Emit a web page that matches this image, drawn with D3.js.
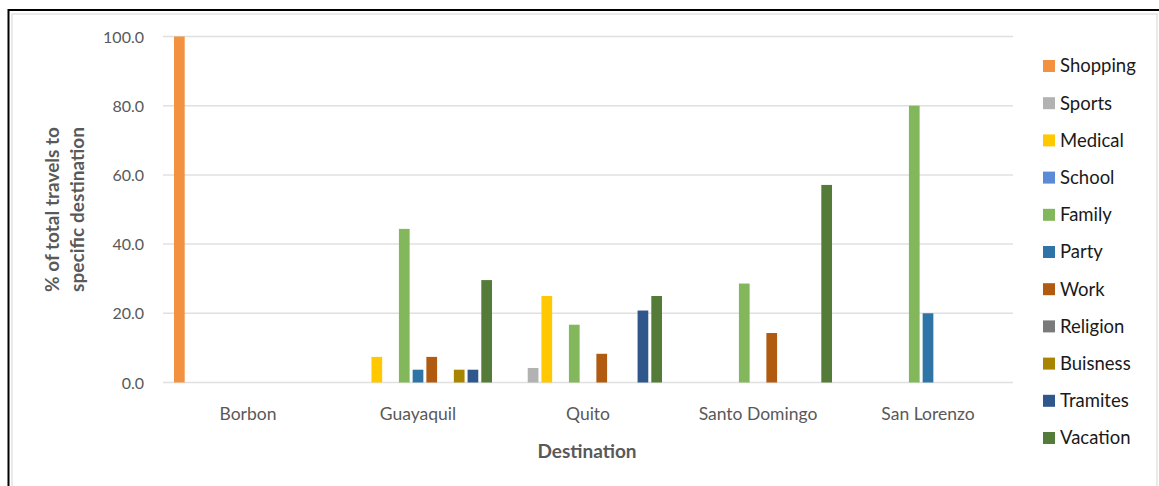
<!DOCTYPE html>
<html>
<head>
<meta charset="utf-8">
<script src="https://cdn.jsdelivr.net/npm/d3@7/dist/d3.min.js"></script>
<style>
  html, body { margin: 0; padding: 0; background: #fff; }
  svg { display: block; }
  text { font-family: Lato, "Open Sans", sans-serif; }
</style>
</head>
<body>
<svg id="chart" width="1159" height="486"></svg>
<script>
// Destinations on the x axis
const destinations = ["Borbon", "Guayaquil", "Quito", "Santo Domingo", "San Lorenzo"];

// Trip purposes (legend order)
const purposes = ["Shopping", "Sports", "Medical", "School", "Family", "Party",
                  "Work", "Religion", "Buisness", "Tramites", "Vacation"];

// Share of trips (%) per purpose, one value per destination
const shopping = [100.0, 0, 0, 0, 0];
const sports   = [0, 0, 4.2, 0, 0];
const medical  = [0, 7.4, 25.0, 0, 0];
const school   = [0, 0, 0, 0, 0];
const family   = [0, 44.4, 16.7, 28.6, 80.0];
const party    = [0, 3.7, 0, 0, 20.0];
const work     = [0, 7.4, 8.3, 14.3, 0];
const religion = [0, 0, 0, 0, 0];
const buisness = [0, 3.7, 0, 0, 0];
const tramites = [0, 3.7, 20.8, 0, 0];
const vacation = [0, 29.6, 25.0, 57.1, 0];

const yTicks = [0, 20, 40, 60, 80, 100];

const seriesValues = [shopping, sports, medical, school, family, party,
                      work, religion, buisness, tramites, vacation];

const colors = ["#F29140", "#B2B2B2", "#FFC800", "#5B8AD6", "#82B75B", "#2E74A6",
                "#B05B10", "#7A7A7A", "#A88500", "#2F578C", "#557B39"];

const svg = d3.select("#chart");

// outer frame
svg.append("rect").attr("x", 12).attr("y", 14).attr("width", 1145).attr("height", 480)
  .attr("fill", "none").attr("stroke", "#e3e3e3").attr("stroke-width", 1.5);
svg.append("line").attr("x1", 8.5).attr("x2", 8.5).attr("y1", 9).attr("y2", 486)
  .attr("stroke", "#000").attr("stroke-width", 2);
svg.append("line").attr("x1", 8).attr("x2", 1159).attr("y1", 10).attr("y2", 10)
  .attr("stroke", "#000").attr("stroke-width", 2);

const plot = { left: 163, right: 1013, top: 36.5, bottom: 382.5 };

const x = d3.scaleBand().domain(destinations).range([plot.left, plot.right]);
const inner = d3.scaleBand().domain(purposes)
  .range([0, x.bandwidth()]).paddingOuter(0.8).paddingInner(0.22);
const y = d3.scaleLinear().domain([0, 100]).range([plot.bottom, plot.top]);

// horizontal gridlines
svg.append("g").selectAll("line").data(yTicks).join("line")
  .attr("x1", plot.left).attr("x2", plot.right)
  .attr("y1", d => y(d)).attr("y2", d => y(d))
  .attr("stroke", "#e0e0e0").attr("stroke-width", 1.5);

// y axis labels
const yAxis = d3.axisLeft(y).tickValues(yTicks).tickFormat(d3.format(".1f")).tickSize(0).tickPadding(0);
const yg = svg.append("g").attr("transform", `translate(${plot.left - 19},0)`).call(yAxis);
yg.select(".domain").remove();
yg.selectAll("text").attr("fill", "#595959").attr("font-size", 16).attr("dy", "0.35em");

// x axis labels
const xAxis = d3.axisBottom(x).tickSize(0).tickPadding(0);
const xg = svg.append("g").attr("transform", `translate(0,${plot.bottom + 25})`).call(xAxis);
xg.select(".domain").remove();
xg.selectAll("text").attr("fill", "#595959").attr("font-size", 17.5).attr("dy", "0.71em");

// bars
const flat = [];
destinations.forEach((dest, i) => {
  purposes.forEach((p, j) => {
    const v = seriesValues[j][i];
    if (v > 0) flat.push({ dest, p, v, c: colors[j] });
  });
});
svg.append("g").selectAll("rect").data(flat).join("rect")
  .attr("x", d => x(d.dest) + inner(d.p))
  .attr("width", inner.bandwidth())
  .attr("y", d => y(d.v))
  .attr("height", d => y(0) - y(d.v))
  .attr("fill", d => d.c);

// axis titles
svg.append("text")
  .attr("transform", `translate(59,${(plot.top + plot.bottom) / 2}) rotate(-90)`)
  .attr("text-anchor", "middle").attr("font-size", 19).attr("font-weight", "bold")
  .attr("fill", "#595959")
  .selectAll("tspan").data(["% of total travels to", "specific destination"]).join("tspan")
  .attr("x", 0).attr("dy", (d, i) => i === 0 ? 0 : 25)
  .attr("textLength", 165).attr("lengthAdjust", "spacing")
  .text(d => d);

svg.append("text").attr("x", (plot.left + plot.right) / 2 - 1).attr("y", 458)
  .attr("text-anchor", "middle").attr("font-size", 19).attr("font-weight", "bold")
  .attr("fill", "#595959").text("Destination");

// legend
const legend = svg.append("g").attr("transform", "translate(1043,66)");
const row = legend.selectAll("g").data(purposes).join("g")
  .attr("transform", (d, i) => `translate(0,${i * 37.2})`);
row.append("rect").attr("x", 0).attr("y", -6).attr("width", 12).attr("height", 12)
  .attr("fill", (d, i) => colors[i]);
row.append("text").attr("x", 17).attr("y", 0).attr("dy", "0.35em")
  .attr("font-size", 18.5).attr("fill", "#1a1a1a").text(d => d);
</script>
</body>
</html>
